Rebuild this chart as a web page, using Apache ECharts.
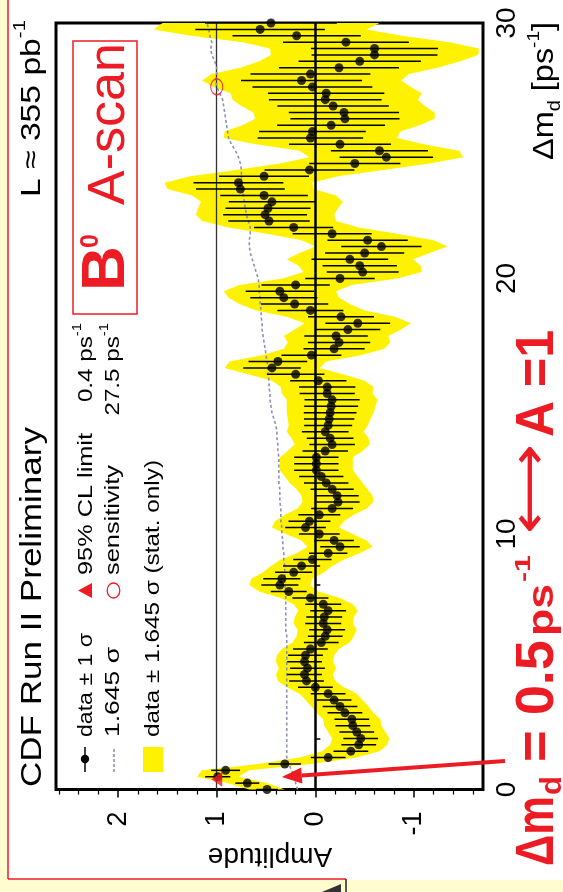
<!DOCTYPE html>
<html><head><meta charset="utf-8">
<script src="https://cdn.jsdelivr.net/npm/echarts@6/dist/echarts.min.js"></script>
<style>html,body{margin:0;padding:0;background:#fff}#c{width:563px;height:892px}</style>
</head><body><div id="c"></div>
<script>
// Δm_d scan points (ps^-1)
const dm = [0,0.25,0.5,0.75,1,1.25,1.5,1.75,2,2.25,2.5,2.75,3,3.25,3.5,3.75,4,4.25,4.5,4.75,
5,5.25,5.5,5.75,6,6.25,6.5,6.75,7,7.25,7.5,7.75,8,8.25,8.5,8.75,9,9.25,9.5,9.75,
10,10.25,10.5,10.75,11,11.25,11.5,11.75,12,12.25,12.5,12.75,13,13.25,13.5,13.75,14,14.25,14.5,14.75,
15,15.25,15.5,15.75,16,16.25,16.5,16.75,17,17.25,17.5,17.75,18,18.25,18.5,18.75,19,19.25,19.5,19.75,
20,20.25,20.5,20.75,21,21.25,21.5,21.75,22,22.25,22.5,22.75,23,23.25,23.5,23.75,24,24.25,24.5,24.75,
25,25.25,25.5,25.75,26,26.25,26.5,26.75,27,27.25,27.5,27.75,28,28.25,28.5,28.75,29,29.25,29.5,29.75,30];
// measured amplitude
const amp = [0.49,0.69,0.99,0.91,0.31,-0.13,-0.36,-0.44,-0.46,-0.42,
-0.38,-0.37,-0.30,-0.25,-0.19,-0.13,0.00,0.09,0.11,0.08,
0.11,0.10,0.05,-0.06,-0.10,-0.12,-0.08,-0.09,-0.13,-0.08,
0.05,0.27,0.36,0.34,0.22,0.14,0.03,-0.13,-0.25,-0.19,
-0.04,0.10,0.06,-0.04,-0.17,-0.23,-0.22,-0.17,-0.11,-0.06,
-0.01,-0.01,-0.01,-0.10,-0.17,-0.15,-0.10,-0.13,-0.14,-0.15,
-0.16,-0.17,-0.12,-0.12,-0.03,0.20,0.44,0.38,0.04,-0.19,
-0.24,-0.21,-0.33,-0.43,-0.26,0.05,0.21,0.32,0.36,0.20,
-0.25,-0.48,-0.45,-0.35,-0.50,-0.67,-0.53,-0.17,0.22,0.47,
0.51,0.48,0.44,0.52,0.76,0.78,0.52,0.06,-0.40,-0.72,
-0.65,-0.25,0.05,0.03,-0.16,-0.30,-0.29,-0.18,-0.10,-0.11,
0.03,0.14,0.05,-0.24,-0.45,-0.60,-0.60,-0.31,0.19,0.56,
0.45];
// 1.645 sigma (stat.)
const sig165 = [0.18,0.20,0.21,0.24,0.27,0.29,0.29,0.29,0.29,0.29,
0.29,0.29,0.29,0.29,0.29,0.29,0.29,0.29,0.29,0.29,
0.29,0.29,0.29,0.29,0.29,0.30,0.30,0.30,0.30,0.30,
0.30,0.30,0.31,0.31,0.31,0.31,0.32,0.32,0.33,0.33,
0.34,0.34,0.35,0.35,0.35,0.36,0.36,0.36,0.37,0.37,
0.37,0.37,0.37,0.38,0.38,0.39,0.39,0.40,0.42,0.44,
0.45,0.46,0.46,0.47,0.47,0.48,0.48,0.49,0.50,0.51,
0.52,0.53,0.54,0.54,0.55,0.55,0.56,0.56,0.57,0.57,
0.58,0.60,0.62,0.64,0.66,0.67,0.67,0.66,0.66,0.68,
0.70,0.71,0.72,0.73,0.74,0.75,0.75,0.75,0.76,0.78,
0.81,0.85,0.88,0.89,0.90,0.91,0.92,0.93,0.94,0.97,
1.00,1.01,1.00,1.00,1.02,1.05,1.06,1.05,1.07,1.08,
1.10];
const clLimit = [1.0, 0.4];      // [amplitude, Δm] 95% CL limit marker
const sensitivity = [1.0, 27.5]; // [amplitude, Δm]
const ampMajorTicks = [-1, 0, 1, 2];
const ampMinorTicks = [-1.6,-1.4,-1.2,-0.8,-0.6,-0.4,-0.2,0.2,0.4,0.6,0.8,1.2,1.4,1.6,1.8,2.2,2.4,2.6];
const dmLabelStep = 10;

const FONT = "'Liberation Sans', Arial, Helvetica, sans-serif";
const RED = '#ed1c24';
const chart = echarts.init(document.getElementById('c'));

const errData = dm.map((d, i) => [amp[i], d, sig165[i] / 1.645]);
const ptData = dm.map((d, i) => [amp[i], d]);
const dashData = dm.map((d, i) => [sig165[i], d]);

chart.setOption({
  animation: false,
  grid: { left: 56, right: 80, top: 23, bottom: 102.5, show: true, borderColor: '#000', borderWidth: 3, backgroundColor: 'transparent' },
  xAxis: [{
    type: 'value', inverse: true, min: -1.7, max: 2.63, position: 'bottom',
    axisLine: { show: false }, splitLine: { show: false },
    axisTick: { show: true, length: 8, inside: false, customValues: ampMajorTicks, lineStyle: { color: '#000', width: 1.5 } },
    axisLabel: { show: true, customValues: ampMajorTicks, rotate: 90, margin: 22, fontSize: 27, fontFamily: FONT, color: '#000' }
  }, {
    type: 'value', inverse: true, min: -1.7, max: 2.63, position: 'bottom', gridIndex: 0,
    axisLine: { show: false }, splitLine: { show: false },
    axisTick: { show: true, length: 5, customValues: ampMinorTicks, lineStyle: { color: '#000', width: 1.2 } },
    axisLabel: { show: false }
  }],
  yAxis: [{
    type: 'value', min: 0, max: 30, interval: 2, position: 'right',
    axisLine: { show: false }, splitLine: { show: false },
    axisTick: { show: true, length: 5, lineStyle: { color: '#000', width: 1.5 } },
    axisLabel: { rotate: 90, margin: 10, fontSize: 28, fontFamily: FONT, color: '#000',
      formatter: v => (Math.abs(v % dmLabelStep) < 1e-9 ? String(v) : '') }
  }],
  series: [
    { // ±1.645σ band
      type: 'custom', z: 1, silent: true, data: [[0]],
      renderItem: (params, api) => {
        const up = dm.map((d, i) => api.coord([amp[i] + sig165[i], d]));
        const lo = dm.map((d, i) => api.coord([amp[i] - sig165[i], d])).reverse();
        return { type: 'polygon', shape: { points: up.concat(lo) }, style: { fill: '#fff200', stroke: null } };
      }
    },
    { // 1.645σ dashed
      type: 'line', z: 3, data: dashData, symbol: 'none', silent: true,
      lineStyle: { color: '#8a92b6', width: 1.6, type: [3, 2.5] },
      markLine: { silent: true, symbol: 'none', label: { show: false }, z: 3,
        data: [ { xAxis: 0, lineStyle: { color: '#000', width: 2.5, type: 'solid' } },
                { xAxis: 1, lineStyle: { color: '#333', width: 1.3, type: 'solid' } } ] }
    },
    { // error bars ±1σ
      type: 'custom', z: 4, silent: true, data: errData,
      renderItem: (params, api) => {
        const a = api.value(0), d = api.value(1), s = api.value(2);
        const p1 = api.coord([a - s, d]), p2 = api.coord([a + s, d]);
        return { type: 'line', shape: { x1: p1[0], y1: p1[1], x2: p2[0], y2: p2[1] }, style: { stroke: '#000', lineWidth: 1.5 } };
      }
    },
    { type: 'scatter', z: 5, data: ptData, symbol: 'circle', symbolSize: 9, itemStyle: { color: '#000' }, silent: true },
    { type: 'scatter', z: 6, data: [clLimit], symbol: 'triangle', symbolSize: [15, 11], symbolRotate: 90, itemStyle: { color: RED }, silent: true },
    { type: 'scatter', z: 6, data: [sensitivity], symbol: 'circle', symbolSize: [12, 16], itemStyle: { color: 'rgba(0,0,0,0)', borderColor: RED, borderWidth: 1.3 }, silent: true }
  ]
});

// ---- rotated text helpers (reads bottom-to-top) ----
const mctx = document.createElement('canvas').getContext('2d');
function tw(t, size, weight, fam) { mctx.font = (weight || 'normal') + ' ' + size + 'px ' + (fam || FONT); return mctx.measureText(t).width; }
function vrun(pieces, startY, baseX, opts) {
  opts = opts || {};
  let total = 0;
  pieces.forEach(p => { p.w = tw(p.t, p.size, p.weight); total += p.w; });
  const sc = opts.len ? opts.len / total : (opts.scale || 1);
  let y = opts.end != null ? opts.end + total * sc : startY;
  return pieces.map(p => {
    const el = { type: 'text', silent: true, z: 100, x: baseX - 0.3465 * p.size - (p.raise || 0), y: y, rotation: Math.PI / 2, scaleX: sc,
      style: { text: p.t, fontSize: p.size, fontFamily: FONT, fontWeight: p.weight || 'normal', fill: p.color || '#000', align: 'left', verticalAlign: 'middle' } };
    y -= p.w * sc;
    return el;
  });
}
// single piece with explicit start and length
function vpiece(t, size, weight, color, y0, len, baseX, fam) {
  const w = tw(t, size, weight, fam);
  return { type: 'text', silent: true, z: 100, x: baseX - 0.3465 * size, y: y0, rotation: Math.PI / 2, scaleX: len ? len / w : 1,
    style: { text: t, fontSize: size, fontFamily: fam || FONT, fontWeight: weight, fill: color, align: 'left', verticalAlign: 'middle' } };
}

const g = [];
// page decorations
g.push({ type: 'rect', silent: true, z: 0, shape: { x: 0, y: 0, width: 7, height: 892 }, style: { fill: '#fffdd0' } });
g.push({ type: 'rect', silent: true, z: 0, shape: { x: 0, y: 880, width: 563, height: 12 }, style: { fill: '#fffdd0' } });
g.push({ type: 'line', silent: true, z: 1, shape: { x1: 8, y1: 0, x2: 8, y2: 879 }, style: { stroke: RED, lineWidth: 1.5 } });
g.push({ type: 'line', silent: true, z: 1, shape: { x1: 8, y1: 879, x2: 346, y2: 879 }, style: { stroke: RED, lineWidth: 1.5 } });
g.push({ type: 'polygon', silent: true, z: 1, shape: { points: [[322, 892], [341, 884], [341, 892]] }, style: { fill: '#333' } });
g.push({ type: 'line', silent: true, z: 1, shape: { x1: 346, y1: 879, x2: 346, y2: 892 }, style: { stroke: '#222', lineWidth: 1.5 } });

// titles
g.push(...vrun([{ t: 'CDF Run II Preliminary', size: 30 }], 787, 43, { len: 360 }));
g.push(...vrun([{ t: 'L \u2248 355 pb', size: 28 }, { t: '-1', size: 17, raise: 16 }], 197, 42, { len: 177 }));
// B0 A-scan box
g.push({ type: 'rect', silent: true, z: 100, shape: { x: 73, y: 41, width: 64, height: 273 }, style: { fill: null, stroke: RED, lineWidth: 1.5 } });
g.push(...vrun([{ t: 'B', size: 62, weight: 'bold', color: RED }], 291, 128));
g.push(...vrun([{ t: '0', size: 25, weight: 'bold', color: RED }], 248, 100));
g.push(...vrun([{ t: 'A-scan', size: 52, color: RED }], 205, 127.5, { len: 162 }));

// legend
g.push({ type: 'line', silent: true, z: 100, shape: { x1: 85, y1: 747, x2: 85, y2: 772 }, style: { stroke: '#000', lineWidth: 1.5 } });
g.push({ type: 'circle', silent: true, z: 100, shape: { cx: 85, cy: 759, r: 4.2 }, style: { fill: '#000' } });
g.push({ type: 'line', silent: true, z: 100, shape: { x1: 114, y1: 749, x2: 114, y2: 772 }, style: { stroke: '#8a92b6', lineWidth: 1.6, lineDash: [3, 2] } });
g.push({ type: 'rect', silent: true, z: 100, shape: { x: 143, y: 747, width: 20, height: 25 }, style: { fill: '#fff200' } });
g.push({ type: 'polygon', silent: true, z: 100, shape: { points: [[78, 590.5], [92, 583], [92, 598]] }, style: { fill: RED } });
g.push({ type: 'ellipse', silent: true, z: 100, shape: { cx: 113.5, cy: 590.5, rx: 6.3, ry: 7.5 }, style: { fill: null, stroke: RED, lineWidth: 1.3 } });
g.push(...vrun([{ t: 'data \u00b1 1 \u03c3', size: 21 }], 737, 93, { len: 104 }));
g.push(...vrun([{ t: '95% CL limit', size: 21 }], 575, 93, { len: 142 }));
g.push(...vrun([{ t: '0.4 ps', size: 21 }, { t: '-1', size: 13, raise: 11 }], null, 93, { end: 323, scale: 1.15 }));
g.push(...vrun([{ t: '1.645 \u03c3', size: 21 }], 737, 120, { len: 90 }));
g.push(...vrun([{ t: 'sensitivity', size: 21 }], 575, 120, { len: 110 }));
g.push(...vrun([{ t: '27.5 ps', size: 21 }, { t: '-1', size: 13, raise: 11 }], null, 120, { end: 323, scale: 1.15 }));
g.push(...vrun([{ t: 'data \u00b1 1.645 \u03c3 (stat. only)', size: 21 }], 737, 160, { len: 277 }));

// axis titles
g.push({ type: 'text', silent: true, z: 100, x: 270, y: 856, rotation: Math.PI,
  style: { text: 'Amplitude', fontSize: 28, fontFamily: FONT, fill: '#000', align: 'center', verticalAlign: 'middle' } });
g.push(...vrun([{ t: '\u0394m', size: 29 }, { t: 'd', size: 18, raise: -6 }, { t: ' [ps', size: 29 }, { t: '-1', size: 17, raise: 15 }, { t: ']', size: 29 }], 160, 555, { len: 138 }));

// red annotation: Δm_d = 0.5 ps^-1 ⟷ A = 1
g.push(vpiece('\u0394m', 54, 'bold', RED, 866, 70, 557));
g.push(vpiece('d', 30, 'bold', RED, 795, 19, 563));
g.push(vpiece('= 0.5', 54, 'bold', RED, 762, 122, 557));
g.push(vpiece('ps', 36, 'bold', RED, 636, 52, 556));
g.push(vpiece('-1', 22, 'bold', RED, 582, 27, 532));
g.push(vpiece('\u27f7', 52, 'normal', RED, 534, 90, 551, "'DejaVu Sans', sans-serif"));
g.push(vpiece('A =1', 54, 'bold', RED, 437, 107, 557));

// arrow pointing at the low-Δm dip
const tip = chart.convertToPixel({ xAxisIndex: 0, yAxisIndex: 0 }, [0.34, 0.49]);
const start = [505, 761];
const ux = tip[0] - start[0], uy = tip[1] - start[1], L = Math.hypot(ux, uy);
const u = [ux / L, uy / L], n = [-u[1], u[0]];
const base = [tip[0] - 20 * u[0], tip[1] - 20 * u[1]];
g.push({ type: 'line', silent: true, z: 110, shape: { x1: start[0], y1: start[1], x2: base[0], y2: base[1] }, style: { stroke: RED, lineWidth: 4 } });
g.push({ type: 'polygon', silent: true, z: 110, shape: { points: [tip, [base[0] + 8 * n[0], base[1] + 8 * n[1]], [base[0] - 8 * n[0], base[1] - 8 * n[1]]] }, style: { fill: RED } });

chart.setOption({ graphic: g });
</script></body></html>
